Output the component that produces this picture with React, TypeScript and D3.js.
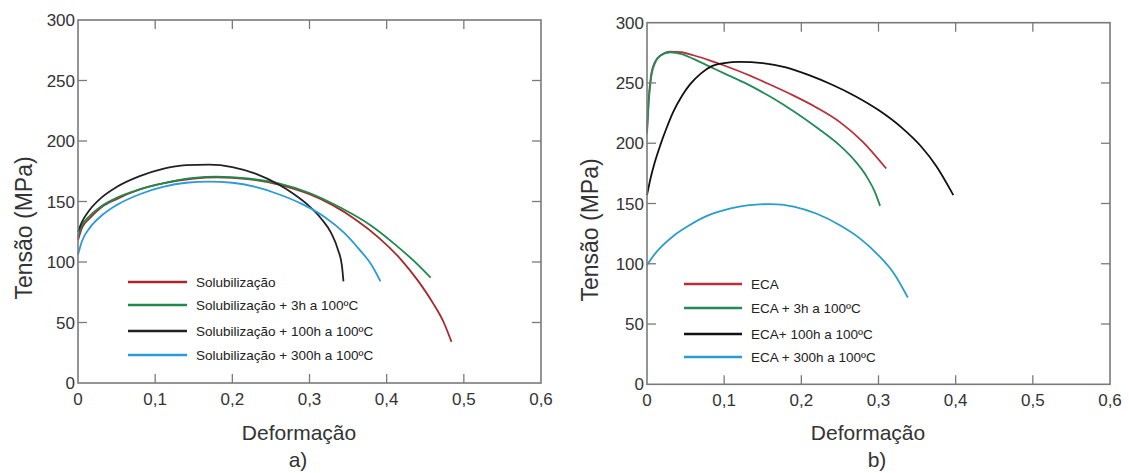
import React from "react";
import * as d3 from "d3";

type Pt = [number, number];

// Panel a) – Solubilização series
const solA: Pt[] = [[0,118],[0.005,128],[0.015,136],[0.03,145],[0.05,152],[0.08,160],[0.11,165],[0.15,169],[0.18,170],[0.22,168.5],[0.26,164],[0.3,156],[0.33,147],[0.36,135],[0.39,120],[0.42,101],[0.44,85],[0.46,66],[0.474,50],[0.484,34]];
const sol3hA: Pt[] = [[0,121],[0.005,130],[0.015,138],[0.03,146],[0.05,153],[0.08,160],[0.11,165],[0.15,169.5],[0.18,170.5],[0.22,169],[0.26,165],[0.3,157],[0.34,145],[0.38,130],[0.41,115],[0.44,98],[0.457,87]];
const sol100hA: Pt[] = [[0,125],[0.005,133],[0.015,143],[0.03,153],[0.05,162],[0.08,171],[0.11,177],[0.14,180],[0.17,180.5],[0.2,178.5],[0.23,173],[0.26,164],[0.28,156],[0.3,146],[0.315,136],[0.328,124],[0.337,110],[0.342,97],[0.344,84]];
const sol300hA: Pt[] = [[0,106],[0.005,117],[0.015,128],[0.03,138],[0.05,147],[0.08,156],[0.11,162],[0.14,165.5],[0.17,166.5],[0.2,165.5],[0.23,162],[0.26,156],[0.29,148],[0.32,137],[0.345,124],[0.365,110],[0.38,98],[0.392,84]];

// Panel b) – ECA series
const ecaB: Pt[] = [[0,211],[0.002,235],[0.005,255],[0.01,267],[0.018,273],[0.03,276],[0.045,275.5],[0.06,273],[0.08,269],[0.1,264.5],[0.13,257],[0.16,248.5],[0.19,239.5],[0.22,229.5],[0.25,217.5],[0.28,201],[0.31,179]];
const eca3hB: Pt[] = [[0,208],[0.002,232],[0.005,253],[0.01,266],[0.018,273],[0.03,275.5],[0.045,274],[0.06,270],[0.08,264],[0.1,258],[0.13,249],[0.16,238.5],[0.19,226.5],[0.22,213],[0.25,198],[0.27,185],[0.285,172],[0.295,160],[0.302,148]];
const eca100hB: Pt[] = [[0,157],[0.005,172],[0.01,184],[0.017,198],[0.025,212],[0.034,226],[0.045,239],[0.056,249],[0.07,258],[0.084,264],[0.1,266.5],[0.12,267.5],[0.15,266.5],[0.18,263],[0.21,256.5],[0.24,248.5],[0.27,239],[0.3,227.5],[0.33,213],[0.355,197.5],[0.375,181],[0.397,157]];
const eca300hB: Pt[] = [[0,99],[0.01,108],[0.02,115],[0.035,123.5],[0.055,132],[0.077,139.5],[0.1,144.5],[0.13,148.5],[0.16,149.5],[0.19,147.5],[0.22,141.5],[0.25,132],[0.275,121.5],[0.3,107],[0.32,92],[0.338,72]];

const xTicks = [0, 0.1, 0.2, 0.3, 0.4, 0.5, 0.6];
const yTicks = [0, 50, 100, 150, 200, 250, 300];
const xTickLabels = ["0", "0,1", "0,2", "0,3", "0,4", "0,5", "0,6"];

const legendA = ["Solubilização", "Solubilização + 3h a 100ºC", "Solubilização + 100h a 100ºC", "Solubilização + 300h a 100ºC"];
const legendB = ["ECA", "ECA + 3h a 100ºC", "ECA+ 100h a 100ºC", "ECA + 300h a 100ºC"];

const colorsA = ["#a8282c", "#1f8a4c", "#222222", "#2a9bd6"];
const colorsB = ["#b8303a", "#238a58", "#111111", "#2a9ec8"];

const FONT = "Liberation Sans, Arial, Helvetica, sans-serif";

type PanelProps = {
  x0: number; x1: number; y0: number; y1: number;
  series: Pt[][]; colors: string[]; legend: string[];
  legX: number; legLineW: number; legYs: number[];
  yTitleX: number; yTitleY: number; xTitleX: number; subX: number; sub: string;
};

function Panel(p: PanelProps) {
  const x = d3.scaleLinear().domain([0, 0.6]).range([p.x0, p.x1]);
  const y = d3.scaleLinear().domain([0, 300]).range([p.y0, p.y1]);
  const line = d3.line<Pt>().x(d => x(d[0])).y(d => y(d[1])).curve(d3.curveMonotoneX);
  const tl = 9;
  const frame = "#7a7a7a";
  return (
    <g>
      {p.series.map((s, i) => (
        <path key={i} d={line(s) || ""} fill="none" stroke={p.colors[i]} strokeWidth={1.8} />
      ))}
      <rect x={p.x0} y={p.y1} width={p.x1 - p.x0} height={p.y0 - p.y1} fill="none" stroke={frame} strokeWidth={1.6} />
      {xTicks.slice(1, -1).map((t, i) => (
        <g key={"xt" + i}>
          <line x1={x(t)} x2={x(t)} y1={p.y0} y2={p.y0 - tl} stroke={frame} strokeWidth={1.3} />
          <line x1={x(t)} x2={x(t)} y1={p.y1} y2={p.y1 + tl} stroke={frame} strokeWidth={1.3} />
        </g>
      ))}
      {yTicks.slice(1, -1).map((t, i) => (
        <g key={"yt" + i}>
          <line x1={p.x0} x2={p.x0 + tl} y1={y(t)} y2={y(t)} stroke={frame} strokeWidth={1.3} />
          <line x1={p.x1} x2={p.x1 - tl} y1={y(t)} y2={y(t)} stroke={frame} strokeWidth={1.3} />
        </g>
      ))}
      {xTicks.map((t, i) => (
        <text key={"xl" + i} x={x(t)} y={p.y0 + 22} textAnchor="middle" fontSize={17} fill="#333" fontFamily={FONT}>{xTickLabels[i]}</text>
      ))}
      {yTicks.map((t, i) => (
        <text key={"yl" + i} x={p.x0 - 3} y={y(t)} dy="0.36em" textAnchor="end" fontSize={17} fill="#333" fontFamily={FONT}>{String(t)}</text>
      ))}
      <text x={p.xTitleX} y={440} textAnchor="middle" fontSize={21} fill="#333" fontFamily={FONT}>Deformação</text>
      <text x={p.subX} y={467} textAnchor="middle" fontSize={21} fill="#333" fontFamily={FONT}>{p.sub}</text>
      <text transform={`translate(${p.yTitleX},${p.yTitleY}) rotate(-90)`} textAnchor="middle" dy="0.35em" fontSize={23} fill="#333" fontFamily={FONT}>Tensão (MPa)</text>
      {p.legend.map((l, i) => (
        <g key={"lg" + i}>
          <line x1={p.legX} x2={p.legX + p.legLineW} y1={p.legYs[i]} y2={p.legYs[i]} stroke={p.colors[i]} strokeWidth={2.6} />
          <text x={p.legX + p.legLineW + 9} y={p.legYs[i]} dy="0.36em" fontSize={13.5} fill="#222" fontFamily={FONT}>{l}</text>
        </g>
      ))}
    </g>
  );
}

export default function App() {
  return (
    <svg width={1129} height={473} style={{ position: "absolute", left: 0, top: 0, background: "#fff" }}>
      <rect width={1129} height={473} fill="#fff" />
      <Panel x0={78} x1={541} y0={383} y1={20}
        series={[solA, sol3hA, sol100hA, sol300hA]} colors={colorsA} legend={legendA}
        legX={128} legLineW={59} legYs={[282, 305, 331, 355]}
        yTitleX={24} yTitleY={228} xTitleX={299} subX={298} sub="a)" />
      <Panel x0={647} x1={1110} y0={384.3} y1={22.7}
        series={[ecaB, eca3hB, eca100hB, eca300hB]} colors={colorsB} legend={legendB}
        legX={684} legLineW={58} legYs={[284, 308, 334, 357]}
        yTitleX={590} yTitleY={230} xTitleX={868} subX={877} sub="b)" />
    </svg>
  );
}
